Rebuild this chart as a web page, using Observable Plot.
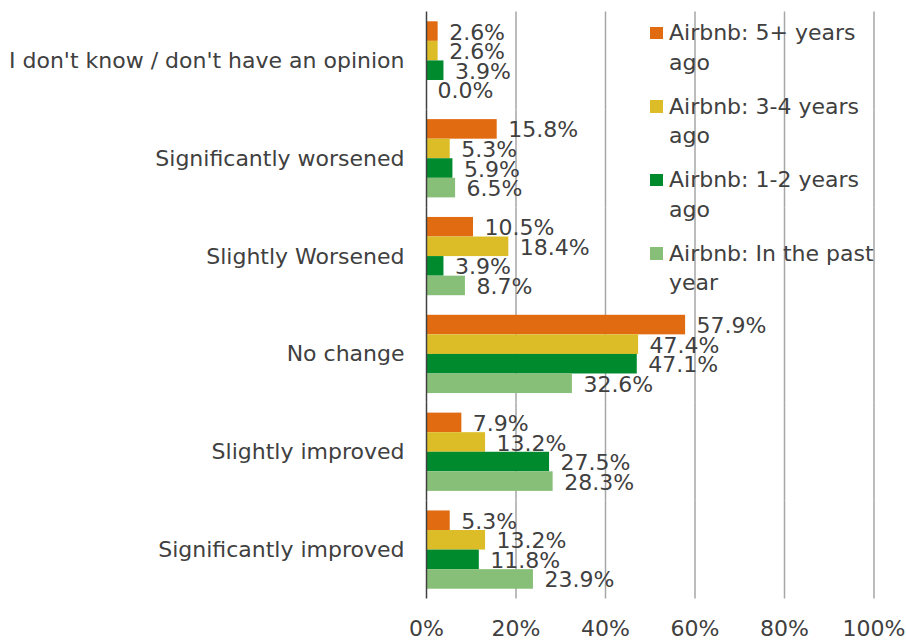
<!DOCTYPE html>
<html><head><meta charset="utf-8">
<script src="https://cdn.jsdelivr.net/npm/d3@7"></script>
<script src="https://cdn.jsdelivr.net/npm/@observablehq/plot@0.6"></script>
<style>
body{margin:0;background:#fff;font-family:"DejaVu Sans",Verdana,sans-serif;}
#wrap{position:relative;width:906px;height:642px;}
#legend{position:absolute;left:650px;top:18px;width:232px;color:#404040;font-size:22px;}
.item{position:relative;padding-left:19px;line-height:29.5px;margin-bottom:14.5px;}
.sw{position:absolute;left:0;top:8.5px;width:12.5px;height:12.5px;}
</style></head><body><div id="wrap"><div id="legend"></div></div>
<script>
const categories = ["I don't know / don't have an opinion","Significantly worsened","Slightly Worsened","No change","Slightly improved","Significantly improved"];
const series = ["Airbnb: 5+ years ago","Airbnb: 3-4 years ago","Airbnb: 1-2 years ago","Airbnb: In the past year"];
const colors = ["#E06B10","#DDBD27","#008A2E","#88BF78"];
const v5plus = [2.6,15.8,10.5,57.9,7.9,5.3];
const v3to4 = [2.6,5.3,18.4,47.4,13.2,13.2];
const v1to2 = [3.9,5.9,3.9,47.1,27.5,11.8];
const vPast = [0.0,6.5,8.7,32.6,28.3,23.9];
const xTicks = [0,20,40,60,80,100];

const seriesValues = [v5plus, v3to4, v1to2, vPast];
const rows = [];
categories.forEach((c,i)=>{ seriesValues.forEach((vals,j)=> rows.push({category:c, series:series[j], value: vals[i]})); });

const textColor = "#404040";
const plot = Plot.plot({
  width:906, height:642, marginLeft:426, marginRight:32.5, marginTop:11.5, marginBottom:43.5,
  style:{fontFamily:"'DejaVu Sans', Verdana, sans-serif", fontSize:"22px", color:textColor, background:"#fff"},
  x:{domain:[0,100]},
  y:{domain:series, paddingInner:0, paddingOuter:0.5, round:false, axis:null},
  fy:{domain:categories, padding:0, round:false},
  color:{domain:series, range:colors},
  marks:[
    Plot.ruleX(xTicks.slice(1), {stroke:"#a6a6a6", strokeWidth:1.5}),
    Plot.barX(rows, {x:"value", y:"series", fy:"category", fill:"series"}),
    Plot.ruleX([0], {stroke:"#404040", strokeWidth:1.5}),
    Plot.text(rows, {x:"value", y:"series", fy:"category", text:d=>d.value.toFixed(1)+"%", textAnchor:"start", dx:11, dy:1, fontSize:22, fill:textColor}),
    Plot.axisX({ticks:xTicks, tickFormat:d=>d+"%", tickSize:0, tickPadding:21, fontSize:22, label:null}),
    Plot.axisFy({anchor:"left", tickSize:0, tickPadding:22, fontSize:22, label:null})
  ]
});
const wrap = document.getElementById("wrap");
wrap.insertBefore(plot, wrap.firstChild);

const legend = document.getElementById("legend");
series.forEach((s,i)=>{
  const it = document.createElement("div"); it.className="item";
  const sw = document.createElement("span"); sw.className="sw"; sw.style.background=colors[i];
  it.appendChild(sw); it.appendChild(document.createTextNode(s));
  legend.appendChild(it);
});
</script></body></html>
